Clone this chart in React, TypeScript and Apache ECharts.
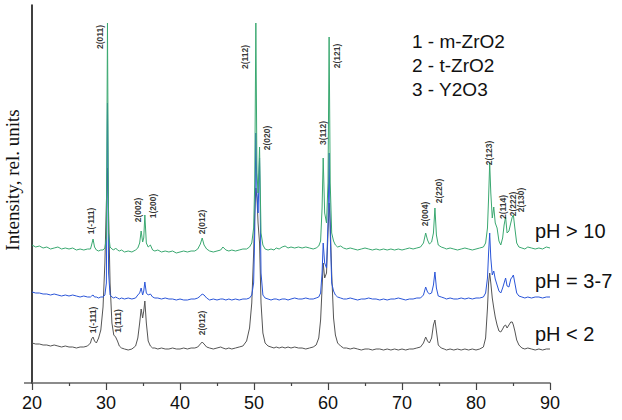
import React, { useEffect, useRef } from "react";
import * as echarts from "echarts";

// 2-theta positions shared by the three patterns
const xs = [
  20.0, 20.5, 21.0, 21.5, 22.0, 22.5, 23.0, 23.5, 24.0, 24.5,
  25.0, 25.5, 26.0, 26.5, 27.0, 27.5, 27.9, 28.05, 28.25, 28.45,
  28.7, 29.0, 29.3, 29.6, 29.85, 30.05, 30.2, 30.35, 30.55, 30.8,
  31.05, 31.3, 31.55, 31.8, 32.1, 32.5, 33.0, 33.5, 34.0, 34.3,
  34.55, 34.75, 34.95, 35.1, 35.25, 35.45, 35.7, 36.0, 36.3, 36.6,
  37.0, 37.5, 38.0, 38.5, 39.0, 39.5, 40.0, 40.5, 41.0, 41.5,
  42.0, 42.4, 42.75, 43.0, 43.25, 43.6, 44.0, 44.5, 45.0, 45.5,
  45.8, 46.2, 46.6, 47.0, 47.5, 48.0, 48.5, 49.0, 49.4, 49.7,
  49.95, 50.1, 50.25, 50.4, 50.55, 50.75, 50.95, 51.2, 51.5, 51.9,
  52.3, 52.7, 53.0, 53.4, 53.8, 54.2, 54.6, 55.0, 55.5, 56.0,
  56.5, 57.0, 57.5, 58.0, 58.4, 58.75, 59.0, 59.2, 59.35, 59.55,
  59.8, 60.0, 60.15, 60.3, 60.5, 60.75, 61.0, 61.3, 61.7, 62.1,
  62.5, 63.0, 63.5, 64.0, 64.5, 65.0, 65.5, 66.0, 66.5, 67.0,
  67.5, 68.0, 68.5, 69.0, 69.5, 70.0, 70.5, 71.0, 71.5, 72.0,
  72.5, 72.9, 73.2, 73.45, 73.7, 74.0, 74.25, 74.45, 74.65, 74.9,
  75.3, 75.7, 76.0, 76.5, 77.0, 77.5, 78.0, 78.5, 79.0, 79.5,
  80.0, 80.5, 81.0, 81.3, 81.55, 81.7, 81.85, 82.0, 82.2, 82.4,
  82.6, 82.85, 83.1, 83.35, 83.6, 83.8, 84.0, 84.2, 84.45, 84.7,
  84.9, 85.05, 85.25, 85.5, 85.8, 86.2, 86.6, 87.0, 87.5, 88.0,
  88.5, 89.0, 89.5, 90.0,
];

// pH > 10 (green)
const greenY = [
  138, 136, 137, 135, 136, 134, 135, 136, 134, 135,
  134, 135, 133, 134, 133, 134, 134, 138, 144, 136,
  133, 132, 133, 133, 135, 145, 360, 150, 136, 134,
  133, 135, 133, 132, 133, 131, 132, 131, 133, 135,
  140, 152, 141, 145, 168, 140, 136, 138, 133, 132,
  133, 131, 132, 131, 132, 130, 131, 132, 131, 132,
  132, 134, 139, 145, 138, 134, 132, 131, 132, 133,
  136, 133, 132, 133, 132, 133, 134, 134, 136, 140,
  155, 200, 360, 210, 190, 236, 150, 138, 134, 133,
  134, 133, 135, 134, 136, 137, 135, 136, 135, 136,
  135, 136, 135, 134, 135, 137, 142, 175, 225, 170,
  160, 200, 346, 200, 150, 142, 138, 136, 137, 135,
  134, 135, 134, 133, 134, 135, 134, 133, 134, 133,
  134, 133, 134, 133, 134, 133, 134, 135, 134, 135,
  136, 140, 150, 143, 139, 141, 150, 175, 148, 138,
  136, 135, 134, 135, 134, 133, 134, 135, 134, 133,
  134, 135, 136, 140, 155, 185, 220, 190, 165, 176,
  160, 155, 142, 138, 145, 158, 166, 150, 152, 160,
  166, 168, 155, 140, 136, 135, 134, 136, 135, 134,
  135, 134, 136, 135,
];

// pH = 3-7 (blue)
const blueY = [
  91, 90, 90, 89, 89, 88, 89, 88, 87, 88,
  87, 88, 87, 86, 87, 86, 86, 87, 88, 86,
  86, 85, 86, 86, 88, 100, 280, 110, 88, 86,
  85, 86, 85, 84, 85, 84, 85, 84, 85, 88,
  90, 95, 88, 92, 101, 90, 88, 89, 86, 85,
  85, 84, 85, 84, 84, 83, 84, 83, 83, 84,
  84, 85, 87, 89, 88, 85, 83, 84, 83, 84,
  84, 83, 84, 83, 84, 83, 84, 84, 85, 88,
  100, 150, 250, 190, 170, 225, 110, 88, 85, 84,
  83, 84, 84, 83, 84, 84, 83, 84, 85, 84,
  84, 85, 84, 84, 85, 86, 90, 110, 140, 120,
  115, 160, 230, 150, 100, 92, 88, 86, 85, 84,
  84, 85, 84, 83, 84, 84, 85, 84, 84, 83,
  84, 83, 84, 84, 85, 84, 83, 84, 84, 85,
  85, 88, 96, 91, 89, 90, 98, 111, 95, 87,
  86, 85, 84, 85, 84, 84, 85, 84, 85, 84,
  85, 85, 86, 90, 105, 130, 150, 125, 108, 112,
  104, 98, 92, 90, 95, 100, 105, 97, 96, 104,
  106, 108, 100, 90, 87, 86, 85, 86, 85, 86,
  86, 85, 86, 86,
];

// pH < 2 (black)
const blackY = [
  40, 39, 39, 38, 38, 37, 38, 37, 36, 37,
  36, 36, 35, 36, 36, 37, 40, 44, 46, 42,
  40, 45, 53, 76, 120, 180, 215, 170, 100, 60,
  48, 46, 42, 37, 35, 34, 33, 34, 37, 45,
  60, 74, 65, 72, 82, 60, 42, 37, 35, 35,
  34, 35, 34, 34, 35, 34, 34, 35, 34, 35,
  35, 36, 39, 41, 39, 36, 35, 34, 35, 36,
  35, 34, 35, 34, 35, 36, 37, 42, 55, 80,
  130, 170, 195, 185, 160, 140, 80, 50, 40, 37,
  36, 35, 36, 35, 36, 35, 36, 35, 36, 35,
  35, 34, 35, 36, 38, 45, 63, 95, 120, 105,
  110, 150, 180, 160, 110, 65, 48, 40, 37, 35,
  35, 34, 35, 34, 33, 34, 34, 33, 34, 34,
  33, 34, 33, 34, 33, 34, 33, 34, 34, 35,
  36, 40, 46, 42, 40, 45, 58, 63, 52, 38,
  35, 34, 33, 34, 33, 34, 33, 34, 33, 34,
  33, 34, 36, 45, 75, 100, 110, 100, 85, 75,
  66, 58, 52, 51, 54, 57, 58, 55, 58, 61,
  61, 58, 52, 43, 38, 35, 34, 35, 34, 33,
  34, 33, 34, 34,
];

// peak annotations: [2theta, intensity, text]
const peakLabels: [number, number, string][] = [
  [28.0, 162, "1(-111)"],
  [29.2, 346, "2(011)"],
  [34.3, 173, "2(002)"],
  [36.35, 177, "1(200)"],
  [43.0, 161, "2(012)"],
  [48.8, 326, "2(112)"],
  [51.75, 245, "2(020)"],
  [59.3, 250, "3(112)"],
  [61.2, 327, "2(121)"],
  [73.1, 169, "2(004)"],
  [75.0, 192, "2(220)"],
  [81.8, 230, "2(123)"],
  [83.7, 176, "2(114)"],
  [85.0, 179, "2(222)"],
  [86.1, 183, "2(130)"],
  [28.2, 63, "1(-111)"],
  [31.65, 62, "1(111)"],
  [43.0, 60, "2(012)"],
];

const phaseLegend = ["1 - m-ZrO2", "2 - t-ZrO2", "3 - Y2O3"];
const seriesNames = ["pH < 2", "pH = 3-7", "pH > 10"];
const xTicks = [20, 30, 40, 50, 60, 70, 80, 90];

const SANS = "'Liberation Sans', Arial, sans-serif";
const SERIF = "'Liberation Serif', 'Times New Roman', serif";

function pairs(ys: number[]) {
  return xs.map((x, i) => [x, ys[i]]);
}

export default function App() {
  const ref = useRef<HTMLDivElement>(null);
  useEffect(() => {
    if (!ref.current) return;
    const chart = echarts.init(ref.current, null, { renderer: "svg" });
    const lineBase = {
      type: "line" as const,
      showSymbol: false,
      symbol: "none",
      smooth: false,
    };
    chart.setOption({
      animation: false,
      backgroundColor: "#ffffff",
      grid: { left: 32, right: 72, top: 5, bottom: 37 },
      xAxis: {
        type: "value",
        min: xTicks[0],
        max: xTicks[xTicks.length - 1],
        interval: 10,
        axisLine: { show: true, onZero: false, lineStyle: { color: "#666", width: 1.5 } },
        axisTick: { show: true, length: 7, lineStyle: { color: "#444", width: 1.2 } },
        minorTick: { show: true, splitNumber: 2, length: 3, lineStyle: { color: "#444", width: 1.2 } },
        axisLabel: { color: "#111", fontSize: 18, fontFamily: SANS, margin: 11 },
        splitLine: { show: false },
      },
      yAxis: {
        type: "value",
        min: 0,
        max: 378,
        axisLine: { show: true, lineStyle: { color: "#000", width: 1.5 } },
        axisTick: { show: false },
        axisLabel: { show: false },
        splitLine: { show: false },
      },
      graphic: [
        {
          type: "text",
          x: 12,
          y: 180,
          rotation: Math.PI / 2,
          style: {
            text: "Intensity, rel. units",
            font: `19px ${SERIF}`,
            fill: "#111",
            textAlign: "center",
            textVerticalAlign: "middle",
          },
        },
        {
          type: "line",
          shape: { x1: 24, y1: 383, x2: 32, y2: 383 },
          style: { stroke: "#666", lineWidth: 1.5 },
        },
        ...phaseLegend.map((t, i) => ({
          type: "text",
          left: 412,
          top: 32 + i * 24,
          style: { text: t, font: `19px ${SANS}`, fill: "#111" },
        })),
        ...[seriesNames[2], seriesNames[1], seriesNames[0]].map((t, i) => ({
          type: "text",
          left: 535,
          top: [221, 271, 324][i],
          style: { text: t, font: `20px ${SANS}`, fill: "#111" },
        })),
      ],
      series: [
        {
          ...lineBase,
          name: seriesNames[0],
          data: pairs(blackY),
          lineStyle: { color: "#555555", width: 1 },
          z: 2,
        },
        {
          ...lineBase,
          name: seriesNames[1],
          data: pairs(blueY),
          lineStyle: { color: "#2a55d8", width: 1 },
          z: 3,
        },
        {
          ...lineBase,
          name: seriesNames[2],
          data: pairs(greenY),
          lineStyle: { color: "#3aa870", width: 1 },
          z: 4,
        },
        {
          type: "scatter",
          symbolSize: 0,
          z: 5,
          data: peakLabels.map((p) => [p[0], p[1], p[2]]),
          label: {
            show: true,
            position: "inside",
            rotate: 90,
            formatter: (p: any) => p.data[2],
            fontSize: 8.5,
            fontWeight: "bold",
            fontFamily: SANS,
            color: "#000",
          },
        },
      ],
    });
    return () => chart.dispose();
  }, []);
  return (
    <div
      ref={ref}
      style={{ position: "absolute", left: 0, top: 0, width: 622, height: 420 }}
    />
  );
}
